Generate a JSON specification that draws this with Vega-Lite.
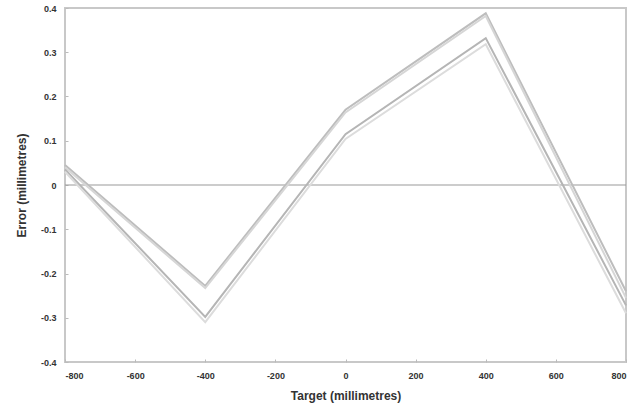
{
  "$schema": "https://vega.github.io/schema/vega-lite/v6.json",
  "autosize": "none",
  "width": 561,
  "height": 354,
  "padding": {"left": 65, "top": 8, "right": 6, "bottom": 42},
  "background": "white",
  "config": {
    "view": {"stroke": "#c8c8c8", "strokeWidth": 2},
    "font": "Liberation Sans",
    "axis": {
      "domain": false,
      "grid": false,
      "labelFont": "Liberation Sans",
      "labelFontWeight": "bold",
      "labelFontSize": 9,
      "labelColor": "#333",
      "titleFont": "Liberation Sans",
      "titleFontWeight": "bold",
      "titleFontSize": 12,
      "titleColor": "#333",
      "tickColor": "#bbb",
      "tickSize": -3
    }
  },
  "datasets": {
    "lines": [
      {"series": "A", "target": -800, "error": 0.045},
      {"series": "A", "target": -400, "error": -0.228},
      {"series": "A", "target": 0, "error": 0.17},
      {"series": "A", "target": 400, "error": 0.388},
      {"series": "A", "target": 800, "error": -0.24},
      {"series": "B", "target": -800, "error": 0.04},
      {"series": "B", "target": -400, "error": -0.233},
      {"series": "B", "target": 0, "error": 0.164},
      {"series": "B", "target": 400, "error": 0.382},
      {"series": "B", "target": 800, "error": -0.255},
      {"series": "C", "target": -800, "error": 0.035},
      {"series": "C", "target": -400, "error": -0.298},
      {"series": "C", "target": 0, "error": 0.115},
      {"series": "C", "target": 400, "error": 0.332},
      {"series": "C", "target": 800, "error": -0.272},
      {"series": "D", "target": -800, "error": 0.03},
      {"series": "D", "target": -400, "error": -0.31},
      {"series": "D", "target": 0, "error": 0.104},
      {"series": "D", "target": 400, "error": 0.318},
      {"series": "D", "target": 800, "error": -0.29}
    ],
    "zero": [{"target": -800, "error": 0}, {"target": 800, "error": 0}]
  },
  "layer": [
    {
      "data": {"name": "zero"},
      "mark": {"type": "line", "color": "#999", "strokeWidth": 1.2},
      "encoding": {
        "x": {"field": "target", "type": "quantitative"},
        "y": {"field": "error", "type": "quantitative"}
      }
    },
    {
      "data": {"name": "lines"},
      "mark": {"type": "line", "strokeWidth": 2},
      "encoding": {
        "x": {
          "field": "target",
          "type": "quantitative",
          "scale": {"domain": [-800, 800], "nice": false, "zero": false},
          "axis": {"values": [-800, -600, -400, -200, 0, 200, 400, 600, 800], "labelExpr": "replace(datum.label, '−', '-')", "title": "Target (millimetres)", "labelPadding": 12, "titlePadding": 10}
        },
        "y": {
          "field": "error",
          "type": "quantitative",
          "scale": {"domain": [-0.4, 0.4], "nice": false},
          "axis": {"values": [-0.4, -0.3, -0.2, -0.1, 0, 0.1, 0.2, 0.3, 0.4], "format": ".1~f", "labelExpr": "replace(datum.label, '−', '-')", "title": "Error (millimetres)", "labelPadding": 12, "titlePadding": 12}
        },
        "detail": {"field": "series"},
        "color": {
          "field": "series",
          "type": "nominal",
          "scale": {"domain": ["A", "B", "C", "D"], "range": ["#bdbdbd", "#d6d6d6", "#b5b5b5", "#dcdcdc"]},
          "legend": null
        }
      }
    }
  ]
}
